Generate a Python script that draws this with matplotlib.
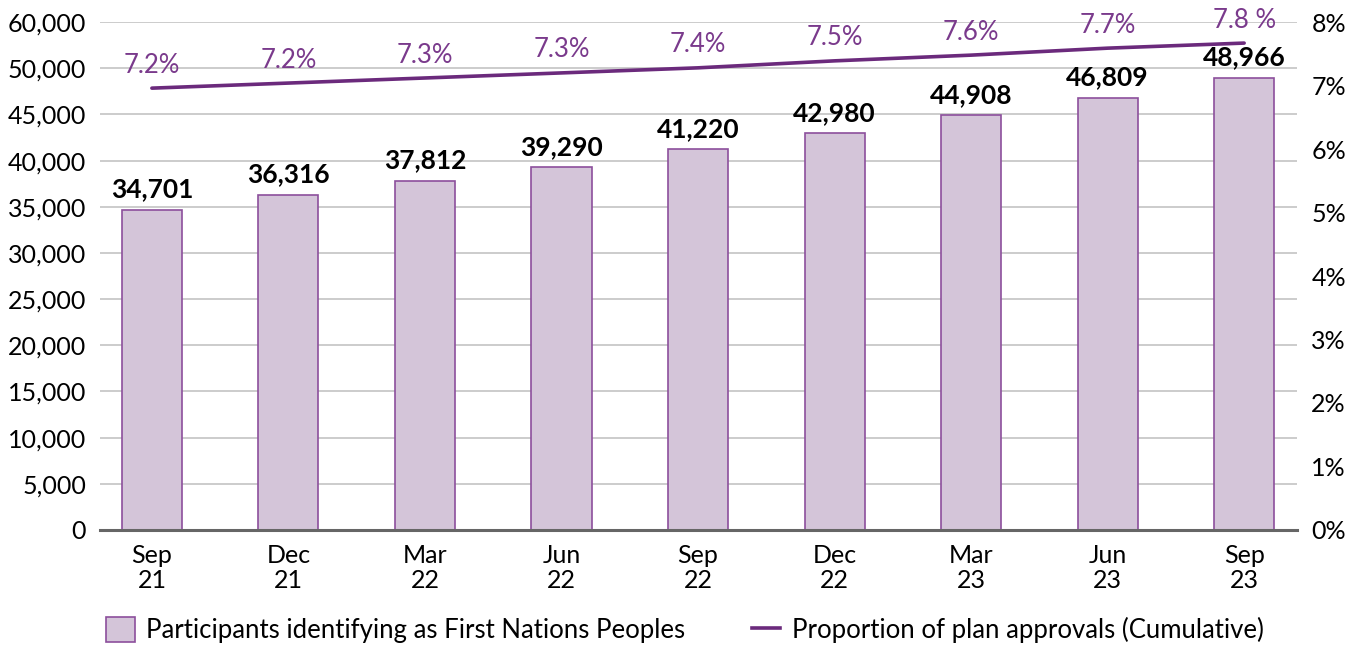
import numpy as np
import matplotlib.pyplot as plt
from matplotlib.patches import Patch
from matplotlib.lines import Line2D

plt.rcParams['font.family'] = ['Lato', 'DejaVu Sans']

quarters = ['Sep\n21', 'Dec\n21', 'Mar\n22', 'Jun\n22', 'Sep\n22',
            'Dec\n22', 'Mar\n23', 'Jun\n23', 'Sep\n23']
participants = [34701, 36316, 37812, 39290, 41220, 42980, 44908, 46809, 48966]
# left axis labels as printed (the top label reads 60,000 although it sits one step above 50,000)
left_ticks = [0, 5000, 10000, 15000, 20000, 25000, 30000, 35000, 40000, 45000, 50000, 55000]
left_tick_labels = ['0', '5,000', '10,000', '15,000', '20,000', '25,000', '30,000',
                    '35,000', '40,000', '45,000', '50,000', '60,000']
# line as drawn in the chart (percent), and the printed labels
proportion = [6.96, 7.04, 7.12, 7.20, 7.28, 7.39, 7.48, 7.59, 7.67]
proportion_labels = ['7.2%', '7.2%', '7.3%', '7.3%', '7.4%', '7.5%', '7.6%', '7.7%', '7.8 %']
right_ticks = [0, 1, 2, 3, 4, 5, 6, 7, 8]

bar_face = '#d4c5d9'
bar_edge = '#8c4f9c'
line_col = '#6b2a7c'
label_purple = '#7a3a8c'

fig = plt.figure(figsize=(13.7, 6.51), dpi=100)
ax = fig.add_axes([0.073, 0.186, 0.874, 0.780])
x = np.arange(len(quarters))

ax.bar(x, participants, width=0.44, color=bar_face, edgecolor=bar_edge, linewidth=1.2, zorder=2)
for xi, v in zip(x, participants):
    ax.annotate(f'{v:,}', (xi, v), xytext=(0, 6), textcoords='offset points',
                ha='center', va='bottom', fontsize=19, fontweight='bold', color='black')

ax.set_ylim(0, 55000)
ax.set_yticks(left_ticks)
ax.set_yticklabels(left_tick_labels)
ax.set_xlim(-0.38, 8.39)
ax.set_xticks(x)
ax.set_xticklabels(quarters, fontsize=18, linespacing=1.12)
ax.tick_params(axis='y', labelsize=18, length=0, pad=10)
ax.tick_params(axis='x', length=0, pad=10)
ax.grid(axis='y', color='#c4c4c4', linewidth=1.2, zorder=0)
ax.set_axisbelow(True)
for s in ['top', 'right', 'left']:
    ax.spines[s].set_visible(False)
ax.spines['bottom'].set_color('#666666')
ax.spines['bottom'].set_linewidth(2.2)
ax.spines['bottom'].set_zorder(3)

ax2 = ax.twinx()
ax2.plot(x, proportion, color=line_col, linewidth=2.6, solid_capstyle='round', zorder=4)
for xi, v, lab in zip(x, proportion, proportion_labels):
    ax2.annotate(lab, (xi, v), xytext=(0, 16.5), textcoords='offset points',
                 ha='center', va='center', fontsize=18.5, color=label_purple)
ax2.set_ylim(0, 8)
ax2.set_yticks(right_ticks)
ax2.set_yticklabels([f'{t}%' for t in right_ticks])
ax2.tick_params(axis='y', labelsize=18, length=0, pad=10)
for s in ax2.spines.values():
    s.set_visible(False)

handles = [Patch(facecolor=bar_face, edgecolor=bar_edge, linewidth=1.2),
           Line2D([0], [0], color=line_col, linewidth=2.6)]
labels = ['Participants identifying as First Nations Peoples',
          'Proportion of plan approvals (Cumulative)']
fig.legend(handles, labels, loc='center', bbox_to_anchor=(0.5, 0.032), ncol=2,
           frameon=False, fontsize=18.5, handlelength=1.1, handleheight=1.1,
           columnspacing=2.6, handletextpad=0.45, borderpad=0)

fig.savefig('out.png', dpi=100)
